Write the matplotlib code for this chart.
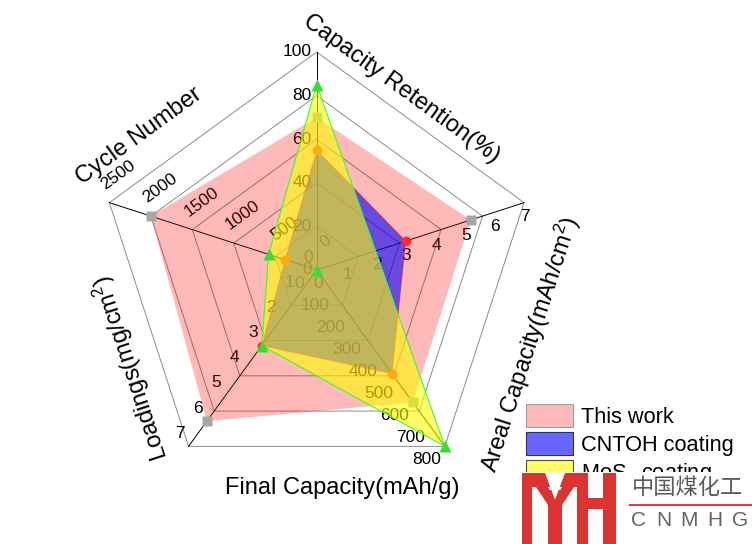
import numpy as np
import matplotlib.pyplot as plt
from matplotlib.patches import Polygon, Patch, Rectangle
from matplotlib.lines import Line2D

plt.rcParams['font.family'] = ['Liberation Sans', 'DejaVu Sans']
plt.rcParams['mathtext.fontset'] = 'custom'
plt.rcParams['mathtext.rm'] = 'Liberation Sans'
plt.rcParams['mathtext.it'] = 'Liberation Sans:italic'

# radar axes, clockwise from the top
axis_titles = ["Capacity Retention(%)", "Areal Capacity(mAh/cm$^2$)",
               "Final Capacity(mAh/g)", "Loadings(mg/cm$^2$)", "Cycle Number"]
axis_max = [100, 7, 800, 7, 2500]
axis_ticks = [[0, 20, 40, 60, 80, 100],
              [0, 1, 2, 3, 4, 5, 6, 7],
              [0, 100, 200, 300, 400, 500, 600, 700, 800],
              [0, 1, 2, 3, 4, 5, 6, 7],
              [0, 500, 1000, 1500, 2000, 2500]]

series_names = ["This work", "CNTOH coating", "MoS$_2$ coating"]
this_work = [70, 5.2, 600, 6, 2000]
cntoh = [55, 3, 470, 3, 380]
mos2 = [85, np.nan, 800, 3, 580]  # areal capacity not given -> marker at centre

W, H = 752, 544
cx, cy, R = 316.7, 270, 218   # centre and radius in pixels

fig = plt.figure(figsize=(W / 100, H / 100), dpi=100)
ax = fig.add_axes([0, 0, 1, 1])
ax.set_xlim(-cx / R, (W - cx) / R)
ax.set_ylim(-(H - cy) / R, cy / R)
ax.axis('off')


def fpx(x, y):
    # pixel (from top-left) -> figure fraction
    return x / W, 1 - y / H


angles = np.deg2rad(90 - 72 * np.arange(5))
ux, uy = np.cos(angles), np.sin(angles)

# grid pentagons and spokes
for lev in [0.2, 0.4, 0.6, 0.8, 1.0]:
    ax.add_patch(Polygon(np.c_[ux * lev, uy * lev], closed=True, fill=False,
                         ec='#8c8c8c', lw=0.7, zorder=1))
for i in range(5):
    ax.plot([0, ux[i]], [0, uy[i]], color='black', lw=0.7, zorder=1)

# tick labels (offsets in pixels, screen y down)
tick_off = [(-5, 0), (1, 14), (-18, 13), (-9, -13), (9, -28)]
tick_ha = ['right', 'center', 'center', 'center', 'center']
tick_rot = [0, 0, 0, 0, 36]
for i in range(5):
    for t in axis_ticks[i]:
        r = t / axis_max[i]
        ax.annotate(str(t), (ux[i] * r, uy[i] * r),
                    xytext=(tick_off[i][0], -tick_off[i][1]),
                    textcoords='offset pixels', ha=tick_ha[i], va='center',
                    rotation=tick_rot[i], rotation_mode='anchor' if i == 4 else 'default',
                    fontsize=12.5, zorder=1)

# axis titles
title_pos = [(401, 89), (530, 345), (342, 488), (131, 368), (139, 136)]
title_rot = [-36, 72, 0, 108, 36]
for i in range(5):
    x, y = fpx(*title_pos[i])
    fig.text(x, y, axis_titles[i], rotation=title_rot[i], ha='center',
             va='center', fontsize=17, rotation_mode='anchor')

# series
fills = [(1, 0, 0, 0.275), (0, 0, 1, 0.6), (1, 1, 0, 0.6)]
edges = ['none', (1, 0, 0, 0.5), '#33ff33']
mk = ['s', 'o', '^']
mk_col = ['#a6a6a6', '#ff2a2a', '#33e033']
mk_size = [6.5, 7, 8]
for k, vals in enumerate([this_work, cntoh, mos2]):
    r = np.array([v / m for v, m in zip(vals, axis_max)], dtype=float)
    ok = ~np.isnan(r)
    ax.add_patch(Polygon(np.c_[ux[ok] * r[ok], uy[ok] * r[ok]], closed=True,
                         fc=fills[k], ec=edges[k], lw=0.8, zorder=2 + k))
    rm = np.nan_to_num(r)
    ax.plot(ux * rm, uy * rm, ls='none', marker=mk[k], ms=mk_size[k],
            mfc=mk_col[k], mec='none', zorder=2.5 + k)

# legend
handles = [Patch(fc=fills[0], ec='#a0a0a0', lw=0.8),
           Patch(fc=fills[1], ec='#303060', lw=0.8),
           Patch(fc=fills[2], ec='#505030', lw=0.8)]
leg = ax.legend(handles, series_names, loc='upper left',
                bbox_to_anchor=fpx(526, 404), bbox_transform=fig.transFigure,
                frameon=False, fontsize=15.7, borderpad=0, borderaxespad=0,
                handlelength=2.15, handleheight=1.22, handletextpad=0.36,
                labelspacing=0.2)
leg.set_zorder(6)

# watermark logo pasted over the bottom-right corner (white backing)
x0, y0 = fpx(514, 544)
fig.add_artist(Rectangle((x0, y0), 1 - x0, (544 - 472) / H, transform=fig.transFigure,
                         fc='white', ec='none', zorder=9))
logo_red = '#dc3232'
blocks = [(522, 473, 10, 80), (522, 473, 60, 14), (548, 490, 14, 60),
          (577, 473, 11, 80), (603, 473, 13, 80), (577, 498, 39, 11)]
for bx, by, bw, bh in blocks:
    x0, y0 = fpx(bx, by + bh)
    fig.add_artist(Rectangle((x0, y0), bw / W, bh / H, transform=fig.transFigure,
                             fc=logo_red, ec='none', zorder=10))
fig.add_artist(Polygon([fpx(545, 473), fpx(565, 473), fpx(555, 500)], closed=True,
                       transform=fig.transFigure, fc='white', ec='none', zorder=11))
fig.add_artist(Polygon([fpx(536, 487), fpx(548, 487), fpx(555, 500), fpx(562, 487),
                        fpx(574, 487), fpx(562, 505), fpx(548, 505)], closed=True,
                       transform=fig.transFigure, fc=logo_red, ec='none', zorder=11))
x, y = fpx(687, 488)
fig.text(x, y, "中国煤化工", ha='center', va='center', fontsize=16, color='#5a5a5a',
         family=['Noto Sans CJK SC', 'DejaVu Sans'], zorder=10)
fig.add_artist(Line2D([630 / W, 1], [1 - 505 / H] * 2, color='#dc4040', lw=1.5, zorder=10))
for j, ch in enumerate("CNMHG"):
    x, y = fpx(638 + j * 25.5, 521)
    fig.text(x, y, ch, ha='center', va='center', fontsize=15, color='#646464', zorder=10)

fig.savefig('out.png', dpi=100)
